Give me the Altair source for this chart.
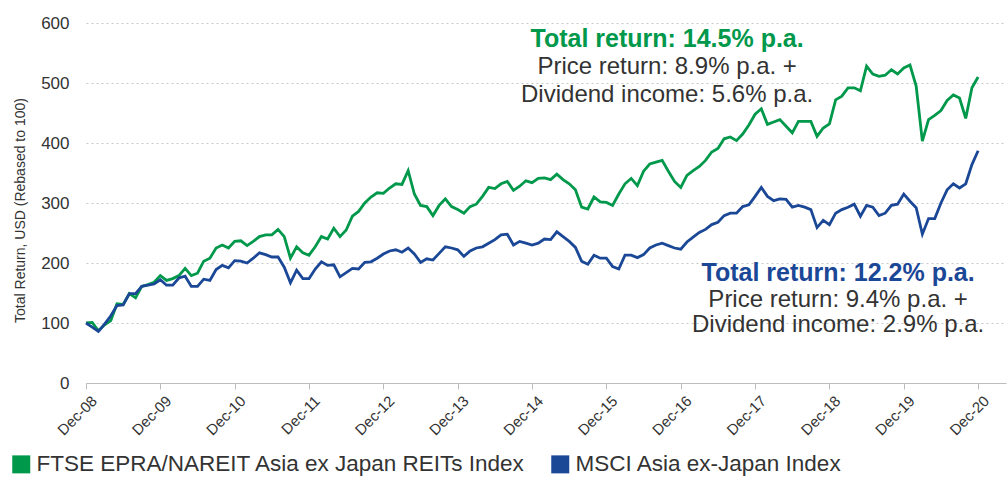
import altair as alt
import pandas as pd

# ---- data (monthly, Dec-08 = month 0 ... Dec-20 = month 144) ----
ftse = [100, 101, 87, 97, 104, 132, 131, 149, 142, 161, 164, 168,
        179, 171, 174, 179, 191, 179, 183, 203, 208, 225, 230, 225,
        236, 237, 229, 236, 244, 247, 247, 256, 244, 208, 227, 217,
        213, 227, 244, 240, 258, 244, 255, 278, 286, 300, 310, 317,
        316, 325, 332, 331, 354, 315, 296, 294, 279, 296, 307, 294,
        289, 283, 294, 298, 311, 326, 324, 332, 336, 321, 328, 337,
        334, 341, 342, 339, 348, 339, 332, 322, 293, 290, 310, 302,
        301, 296, 315, 332, 341, 329, 353, 365, 368, 371, 353, 336,
        326, 346, 354, 361, 371, 385, 391, 407, 410, 404, 415, 430,
        448, 457, 431, 435, 439, 428, 417, 436, 436, 436, 411, 425,
        432, 472, 478, 492, 492, 487, 528, 515, 511, 513, 522, 515,
        525, 530, 495, 403, 439, 446, 454, 471, 480, 475, 441, 492,
        510]
msci = [100, 93, 86, 98, 112, 129, 130, 149, 149, 161, 163, 165,
        172, 163, 163, 175, 178, 161, 161, 173, 171, 189, 196, 192,
        204, 203, 200, 208, 217, 214, 210, 210, 193, 167, 188, 174,
        174, 190, 202, 196, 197, 177, 184, 191, 190, 201, 202, 208,
        215, 220, 222, 218, 225, 215, 201, 207, 205, 216, 227, 225,
        222, 211, 220, 225, 227, 233, 239, 247, 248, 230, 236, 233,
        230, 233, 240, 239, 252, 244, 236, 226, 203, 198, 213, 208,
        208, 194, 190, 213, 213, 209, 214, 225, 230, 233, 229, 225,
        223, 235, 243, 251, 256, 264, 268, 279, 283, 283, 294, 297,
        311, 326, 311, 304, 307, 306, 293, 296, 293, 289, 259, 271,
        264, 283, 289, 293, 298, 278, 296, 293, 279, 283, 296, 298,
        315, 303, 292, 248, 274, 274, 300, 322, 332, 325, 332, 364,
        387]
months = list(range(len(ftse)))
series_names = ["FTSE EPRA/NAREIT Asia ex Japan REITs Index", "MSCI Asia ex-Japan Index"]
series_colors = ["#00984A", "#1B4797"]
x_tick_months = list(range(0, 145, 12))
y_ticks = [0, 100, 200, 300, 400, 500, 600]
y_title = "Total Return, USD (Rebased to 100)"

ann_text = ["Total return: 14.5% p.a.", "Price return: 8.9% p.a. +", "Dividend income: 5.6% p.a.",
            "Total return: 12.2% p.a.", "Price return: 9.4% p.a. +", "Dividend income: 2.9% p.a."]
ann_month = [93.8, 93.8, 93.8, 121.4, 121.4, 121.4]
ann_value = [560.8, 515.0, 468.8, 170.0, 126.7, 85.0]
ann_kind = ["green", "plain", "plain", "blue", "plain", "plain"]

df = pd.DataFrame({
    "month": months + months,
    "value": ftse + msci,
    "series": [series_names[0]] * len(ftse) + [series_names[1]] * len(msci),
})
ann = pd.DataFrame({"month": ann_month, "value": ann_value, "text": ann_text, "kind": ann_kind})

FONT = "Liberation Sans"
TXT = "#333333"

x_enc = alt.X("month:Q",
              scale=alt.Scale(domain=[0, 148.5], nice=False, zero=False),
              axis=alt.Axis(values=x_tick_months, title=None, grid=False,
                            labelExpr="'Dec-' + format(datum.value / 12 + 8, '02d')",
                            labelAngle=-45, labelAlign="right", labelBaseline="top",
                            labelPadding=4, labelOffset=3, labelFontSize=15,
                            labelColor=TXT, labelFont=FONT,
                            labelOverlap=False, labelFlush=False, labelBound=False,
                            tickSize=6, tickColor="#bdbdbd", domainColor="#bdbdbd", domainWidth=1))
y_enc = alt.Y("value:Q",
              scale=alt.Scale(domain=[0, 600], nice=False),
              axis=alt.Axis(values=y_ticks, title=y_title, grid=True, gridDash=[2, 3],
                            gridColor="#c8c8c8", gridWidth=1, domain=False, ticks=False,
                            labelPadding=17, labelFontSize=17, labelColor=TXT, labelFont=FONT,
                            titleFont=FONT, titleFontSize=14, titleFontWeight="normal",
                            titleColor=TXT, titleAngle=270, titleX=-66, titleY=187,
                            titleAlign="center", titleBaseline="middle"))

lines = alt.Chart(df).mark_line(strokeWidth=2.8).encode(
    x=x_enc,
    y=y_enc,
    color=alt.Color("series:N",
                    scale=alt.Scale(domain=series_names, range=series_colors),
                    legend=alt.Legend(title=None, orient="none", legendX=-76, legendY=430,
                                      direction="horizontal", symbolType="square",
                                      symbolSize=81, symbolStrokeWidth=9,
                                      labelFontSize=22.5, labelFont=FONT, labelColor=TXT,
                                      labelOffset=4, columnPadding=11, padding=0,
                                      labelLimit=0)),
)

def ann_layer(kind, color, weight, size):
    return alt.Chart(ann).transform_filter(alt.datum.kind == kind).mark_text(
        align="center", baseline="alphabetic", font=FONT, fontSize=size,
        fontWeight=weight, color=color
    ).encode(x="month:Q", y="value:Q", text="text:N")

chart = alt.layer(
    lines,
    ann_layer("green", "#00984A", "bold", 25),
    ann_layer("blue", "#1B4797", "bold", 25),
    ann_layer("plain", TXT, "normal", 24),
).properties(
    width=920, height=360,
    padding={"left": 86, "top": 23, "right": 2, "bottom": 98},
    autosize=alt.AutoSizeParams(type="none"),
).configure_view(strokeWidth=0)

chart.save("out.html", embed_options={"renderer": "svg", "actions": False})
